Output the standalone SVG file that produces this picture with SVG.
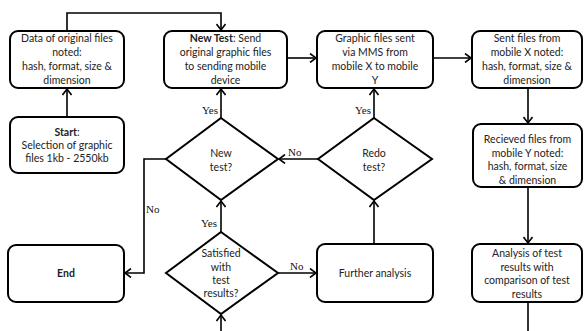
<svg xmlns="http://www.w3.org/2000/svg" width="584" height="331" viewBox="0 0 584 331">
<defs>
<style>
.box{fill:#fff;stroke:#000;stroke-width:2}
.dia{fill:#fff;stroke:#000;stroke-width:2}
.t{font-family:Lato,"Liberation Sans",sans-serif;font-size:10.5px;fill:#222;text-anchor:middle}
.tb{font-weight:bold}
.lbl{font-family:"Liberation Serif",serif;font-size:11px;fill:#111}
.c{fill:none;stroke:#000;stroke-width:1.6}
</style>
<marker id="ar" markerWidth="10" markerHeight="10" refX="8" refY="5" orient="auto" markerUnits="userSpaceOnUse">
<polyline points="2,0.5 8,5 2,9.5" fill="none" stroke="#000" stroke-width="1.6"/>
</marker>
</defs>
<rect width="584" height="331" fill="#fff"/>

<g id="connectors">
<polyline class="c" points="67,31 67,13 221,13 221,30" marker-end="url(#ar)"/>
<line class="c" x1="67" y1="117" x2="67" y2="89" marker-end="url(#ar)"/>
<line class="c" x1="287" y1="58" x2="316" y2="58" marker-end="url(#ar)"/>
<line class="c" x1="433" y1="58" x2="471" y2="58" marker-end="url(#ar)"/>
<line class="c" x1="528" y1="88" x2="528" y2="123" marker-end="url(#ar)"/>
<line class="c" x1="528" y1="187" x2="528" y2="243" marker-end="url(#ar)"/>
<line class="c" x1="528" y1="302" x2="528" y2="331"/>
<line class="c" x1="221" y1="331" x2="221" y2="315" marker-end="url(#ar)"/>
<line class="c" x1="221" y1="232" x2="221" y2="201" marker-end="url(#ar)"/>
<line class="c" x1="278" y1="273" x2="316" y2="273" marker-end="url(#ar)"/>
<line class="c" x1="374" y1="244" x2="374" y2="201" marker-end="url(#ar)"/>
<line class="c" x1="374" y1="118" x2="374" y2="89" marker-end="url(#ar)"/>
<line class="c" x1="318" y1="159" x2="279" y2="159" marker-end="url(#ar)"/>
<line class="c" x1="221" y1="118" x2="221" y2="89" marker-end="url(#ar)"/>
<polyline class="c" points="166,159 144,159 144,273 125,273" marker-end="url(#ar)"/>
<text class="lbl" x="202" y="114">Yes</text>
<text class="lbl" x="355" y="114">Yes</text>
<text class="lbl" x="288" y="156">No</text>
<text class="lbl" x="146" y="213">No</text>
<text class="lbl" x="201" y="227">Yes</text>
<text class="lbl" x="290" y="270">No</text>
</g>

<g id="data-original">
<rect class="box" x="10" y="31" width="114" height="57" rx="8"/>
<text class="t" x="67" y="42">Data of original files</text>
<text class="t" x="67" y="56">noted:</text>
<text class="t" x="67" y="70">hash, format,  size &amp;</text>
<text class="t" x="67" y="84">dimension</text>
</g>

<g id="new-test-box">
<rect class="box" x="164" y="31" width="123" height="57" rx="8"/>
<text class="t" x="225.5" y="42"><tspan class="tb">New Test</tspan>: Send</text>
<text class="t" x="225.5" y="56">original graphic files</text>
<text class="t" x="225.5" y="70">to sending mobile</text>
<text class="t" x="225.5" y="84">device</text>
</g>

<g id="graphic-sent">
<rect class="box" x="317" y="31" width="116" height="57" rx="8"/>
<text class="t" x="375" y="42">Graphic files sent</text>
<text class="t" x="375" y="56">via MMS from</text>
<text class="t" x="375" y="70">mobile X to  mobile</text>
<text class="t" x="375" y="84">Y</text>
</g>

<g id="sent-files">
<rect class="box" x="472" y="31" width="110" height="57" rx="8"/>
<text class="t" x="527" y="42">Sent files from</text>
<text class="t" x="527" y="56">mobile X noted:</text>
<text class="t" x="527" y="70">hash, format,  size &amp;</text>
<text class="t" x="527" y="84">dimension</text>
</g>

<g id="start">
<rect class="box" x="10" y="117" width="114" height="56" rx="8"/>
<text class="t" x="67" y="136"><tspan class="tb">Start</tspan>:</text>
<text class="t" x="67" y="149">Selection of graphic</text>
<text class="t" x="67" y="162">files 1kb - 2550kb</text>
</g>

<g id="new-test-decision">
<polygon class="dia" points="221,118 278,159 221,200 166,159"/>
<text class="t" x="221" y="157">New</text>
<text class="t" x="221" y="171">test?</text>
</g>

<g id="redo-test">
<polygon class="dia" points="374,118 432,159 374,200 318,159"/>
<text class="t" x="374" y="157">Redo</text>
<text class="t" x="374" y="171">test?</text>
</g>

<g id="received-files">
<rect class="box" x="473" y="124" width="109" height="63" rx="8"/>
<text class="t" x="527.5" y="143">Recieved files from</text>
<text class="t" x="527.5" y="157">mobile Y noted:</text>
<text class="t" x="527.5" y="170">hash, format,  size</text>
<text class="t" x="527.5" y="184">&amp; dimension</text>
</g>

<g id="end">
<rect class="box" x="8" y="245" width="116" height="57" rx="8"/>
<text class="t tb" x="66" y="277">End</text>
</g>

<g id="satisfied">
<polygon class="dia" points="221,232 278,273 221,314 166,273"/>
<text class="t" x="221" y="257">Satisfied</text>
<text class="t" x="221" y="271">with</text>
<text class="t" x="221" y="284">test</text>
<text class="t" x="221" y="297">results?</text>
</g>

<g id="further-analysis">
<rect class="box" x="317" y="244" width="116" height="58" rx="8"/>
<text class="t" x="375" y="277">Further analysis</text>
</g>

<g id="analysis">
<rect class="box" x="472" y="244" width="110" height="58" rx="8"/>
<text class="t" x="527" y="257">Analysis of test</text>
<text class="t" x="527" y="271">results  with</text>
<text class="t" x="527" y="284">comparison of test</text>
<text class="t" x="527" y="298">results</text>
</g>
</svg>
